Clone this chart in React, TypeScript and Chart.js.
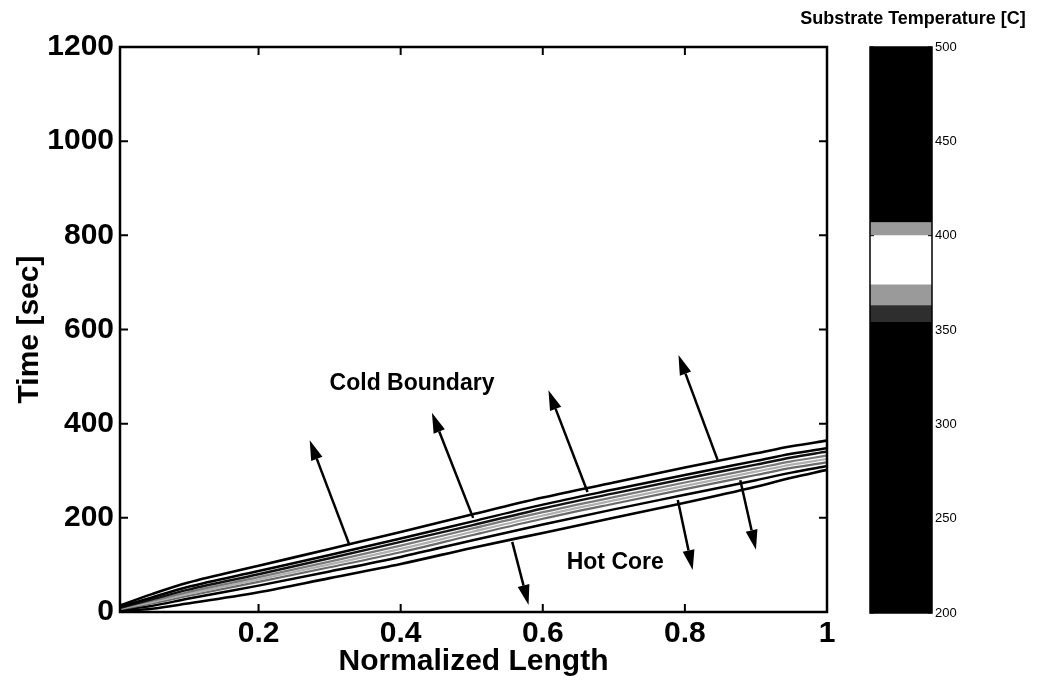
import React, { useEffect, useRef } from 'react';
import { Chart, registerables } from 'chart.js';

Chart.register(...registerables);

// ---------- data ----------
const X_POS = [0.005, 0.05, 0.1, 0.2, 0.3, 0.4, 0.5, 0.6, 0.7, 0.8, 0.9, 0.95, 1.0];

const CONTOUR_1 = [14, 38, 62, 98, 134, 170, 207, 243, 275, 307, 337, 352, 364];
const CONTOUR_2 = [11, 31, 53, 87, 121, 156, 192, 228, 260, 291, 321, 336, 348];
const CONTOUR_3 = [9, 27, 47, 80, 114, 149, 184, 220, 252, 283, 313, 328, 341];
const CONTOUR_4 = [8, 24, 42, 74, 107, 141, 177, 212, 244, 275, 305, 320, 332];
const CONTOUR_5 = [7, 21, 38, 69, 101, 134, 170, 205, 237, 268, 298, 313, 325];
const CONTOUR_6 = [6, 18, 34, 64, 95, 127, 163, 198, 230, 261, 291, 306, 318];
const CONTOUR_7 = [4, 13, 28, 56, 86, 117, 152, 186, 218, 249, 280, 296, 310];
const CONTOUR_8 = [2, 7, 18, 42, 72, 102, 136, 168, 200, 232, 266, 285, 302];

const CONTOURS = [CONTOUR_1, CONTOUR_2, CONTOUR_3, CONTOUR_4, CONTOUR_5, CONTOUR_6, CONTOUR_7, CONTOUR_8];

const X_TICKS = [0.2, 0.4, 0.6, 0.8, 1];
const X_TICK_LABELS = ['0.2', '0.4', '0.6', '0.8', '1'];
const Y_MIN = 0;
const Y_MAX = 1200;
const Y_STEP = 200;
const X_MIN = 0.005;
const X_MAX = 1;

// arrows (data coordinates: from -> to, arrowhead at "to")
const ARROW_FROM_X = [0.328, 0.502, 0.663, 0.846, 0.557, 0.790, 0.878];
const ARROW_FROM_Y = [142, 200, 255, 323, 149, 238, 280];
const ARROW_TO_X = [0.272, 0.444, 0.608, 0.791, 0.580, 0.811, 0.900];
const ARROW_TO_Y = [365, 423, 471, 546, 15, 89, 132];

// colour bar
const CB_LOW = [200, 354, 363, 374, 400, 407];
const CB_HIGH = [354, 363, 374, 400, 407, 500];
const CB_COLORS = ['#000000', '#2e2e2e', '#9a9a9a', '#ffffff', '#9a9a9a', '#000000'];
const CB_MIN = 200;
const CB_MAX = 500;
const CB_STEP = 50;

// ---------- styles ----------
const FONT = '"Liberation Sans", Arial, Helvetica, sans-serif';
const CONTOUR_COLORS = ['#000', '#000', '#111', '#7a7a7a', '#b0b0b0', '#6a6a6a', '#000', '#000'];
const CONTOUR_WIDTHS = [2.6, 2.5, 2.5, 2.2, 2.2, 2.2, 2.5, 2.6];

const mainDecor = {
  id: 'mainDecor',
  afterDatasetsDraw(chart: any) {
    const { ctx, chartArea: a, scales } = chart;
    const xs = scales.x;
    const ys = scales.y;
    ctx.save();
    // arrows
    ctx.strokeStyle = '#000';
    ctx.fillStyle = '#000';
    ctx.lineWidth = 2.5;
    for (let i = 0; i < ARROW_FROM_X.length; i++) {
      const x0 = xs.getPixelForValue(ARROW_FROM_X[i]);
      const y0 = ys.getPixelForValue(ARROW_FROM_Y[i]);
      const x1 = xs.getPixelForValue(ARROW_TO_X[i]);
      const y1 = ys.getPixelForValue(ARROW_TO_Y[i]);
      const ang = Math.atan2(y1 - y0, x1 - x0);
      const hl = 20;
      const hw = 6;
      const bx = x1 - hl * Math.cos(ang);
      const by = y1 - hl * Math.sin(ang);
      ctx.beginPath();
      ctx.moveTo(x0, y0);
      ctx.lineTo(bx, by);
      ctx.stroke();
      ctx.beginPath();
      ctx.moveTo(x1, y1);
      ctx.lineTo(bx + hw * Math.sin(ang), by - hw * Math.cos(ang));
      ctx.lineTo(bx - hw * Math.sin(ang), by + hw * Math.cos(ang));
      ctx.closePath();
      ctx.fill();
    }
    // annotations
    ctx.font = `bold 23px ${FONT}`;
    ctx.textAlign = 'center';
    ctx.textBaseline = 'middle';
    ctx.fillText('Cold Boundary', xs.getPixelForValue(0.416), ys.getPixelForValue(486));
    ctx.fillText('Hot Core', xs.getPixelForValue(0.702), ys.getPixelForValue(104));
    // frame
    ctx.lineWidth = 2.5;
    ctx.strokeRect(a.left, a.top, a.right - a.left, a.bottom - a.top);
    // inward ticks
    ctx.lineWidth = 2;
    const tl = 8;
    xs.ticks.forEach((t: any) => {
      const p = xs.getPixelForValue(t.value);
      ctx.beginPath();
      ctx.moveTo(p, a.bottom);
      ctx.lineTo(p, a.bottom - tl);
      ctx.moveTo(p, a.top);
      ctx.lineTo(p, a.top + tl);
      ctx.stroke();
    });
    ys.ticks.forEach((t: any) => {
      const p = ys.getPixelForValue(t.value);
      ctx.beginPath();
      ctx.moveTo(a.left, p);
      ctx.lineTo(a.left + tl, p);
      ctx.moveTo(a.right, p);
      ctx.lineTo(a.right - tl, p);
      ctx.stroke();
    });
    ctx.restore();
  },
};

const cbDecor = {
  id: 'cbDecor',
  afterDatasetsDraw(chart: any) {
    const { ctx, chartArea: a, scales } = chart;
    const ys = scales.y;
    ctx.save();
    ctx.strokeStyle = '#000';
    ctx.lineWidth = 1.5;
    ctx.strokeRect(a.left, a.top, a.right - a.left, a.bottom - a.top);
    ctx.lineWidth = 1;
    ys.ticks.forEach((t: any) => {
      const p = ys.getPixelForValue(t.value);
      ctx.beginPath();
      ctx.moveTo(a.left, p);
      ctx.lineTo(a.left + 4, p);
      ctx.moveTo(a.right, p);
      ctx.lineTo(a.right - 4, p);
      ctx.stroke();
    });
    ctx.restore();
  },
};

export default function App() {
  const mainRef = useRef<HTMLCanvasElement | null>(null);
  const cbRef = useRef<HTMLCanvasElement | null>(null);

  useEffect(() => {
    const tickFont = { family: FONT, size: 30, weight: 'bold' as const };
    const titleFont = { family: FONT, size: 30, weight: 'bold' as const };
    const main = new Chart(mainRef.current as HTMLCanvasElement, {
      type: 'line',
      data: {
        datasets: CONTOURS.map((c, i) => ({
          data: X_POS.map((xv, j) => ({ x: xv, y: c[j] })),
          borderColor: CONTOUR_COLORS[i],
          borderWidth: CONTOUR_WIDTHS[i],
          pointRadius: 0,
          fill: false,
          cubicInterpolationMode: 'monotone' as const,
        })),
      },
      options: {
        responsive: false,
        animation: false,
        layout: { padding: { left: 0, top: 47, right: 33, bottom: 0 } },
        plugins: {
          legend: { display: false },
          tooltip: { enabled: false },
        },
        scales: {
          x: {
            type: 'linear',
            min: X_MIN,
            max: X_MAX,
            afterBuildTicks: (s: any) => {
              s.ticks = X_TICKS.map((v) => ({ value: v }));
            },
            afterFit: (s: any) => {
              s.height = 72;
            },
            grid: { display: false, drawTicks: false },
            border: { display: false },
            ticks: {
              font: tickFont,
              color: '#000',
              padding: 4,
              maxRotation: 0,
              autoSkip: false,
              callback: (v: any) => {
                const idx = X_TICKS.findIndex((t) => Math.abs(t - Number(v)) < 1e-9);
                return idx >= 0 ? X_TICK_LABELS[idx] : '';
              },
            },
            title: {
              display: true,
              text: 'Normalized Length',
              font: titleFont,
              color: '#000',
              padding: { top: 0, bottom: 4 },
            },
          },
          y: {
            type: 'linear',
            min: Y_MIN,
            max: Y_MAX,
            afterFit: (s: any) => {
              s.width = 120;
            },
            grid: { display: false, drawTicks: false },
            border: { display: false },
            ticks: {
              stepSize: Y_STEP,
              font: tickFont,
              color: '#000',
              padding: 6,
              callback: (v: any) => String(v),
            },
            title: {
              display: true,
              text: 'Time [sec]',
              font: titleFont,
              color: '#000',
              padding: { top: 12, bottom: 0 },
            },
          },
        },
      },
      plugins: [mainDecor],
    } as any);

    const cb = new Chart(cbRef.current as HTMLCanvasElement, {
      type: 'bar',
      data: {
        labels: [''],
        datasets: CB_LOW.map((lo, i) => ({
          data: [[lo, CB_HIGH[i]]],
          backgroundColor: CB_COLORS[i],
          borderWidth: 0,
          barPercentage: 1,
          categoryPercentage: 1,
          grouped: false,
          xAxisID: 'x',
          yAxisID: 'y',
        })),
      },
      options: {
        responsive: false,
        animation: false,
        layout: { padding: { left: 0, right: 0, top: 0, bottom: 71 } },
        plugins: {
          legend: { display: false },
          tooltip: { enabled: false },
          title: {
            display: true,
            text: 'Substrate Temperature [C]',
            font: { family: FONT, size: 18, weight: 'bold' },
            color: '#000',
            padding: { top: 8, bottom: 17.4 },
          },
        },
        scales: {
          x: { display: false },
          y: {
            type: 'linear',
            position: 'right',
            min: CB_MIN,
            max: CB_MAX,
            grid: { display: false, drawTicks: false },
            border: { display: false },
            ticks: { stepSize: CB_STEP, font: { family: FONT, size: 13 }, color: '#000', padding: 3 },
            afterFit: (s: any) => {
              s.width = 104;
            },
          },
          yL: {
            type: 'linear',
            position: 'left',
            display: true,
            grid: { display: false, drawTicks: false },
            border: { display: false },
            ticks: { display: false },
            afterFit: (s: any) => {
              s.width = 80;
            },
          },
        },
      },
      plugins: [cbDecor],
    } as any);

    return () => {
      main.destroy();
      cb.destroy();
    };
  }, []);

  return (
    <div style={{ position: 'absolute', left: 0, top: 0, width: 1038, height: 684, background: '#fff' }}>
      <canvas ref={mainRef} width={860} height={684} style={{ position: 'absolute', left: 0, top: 0 }} />
      <canvas ref={cbRef} width={246} height={684} style={{ position: 'absolute', left: 790, top: 0 }} />
    </div>
  );
}
